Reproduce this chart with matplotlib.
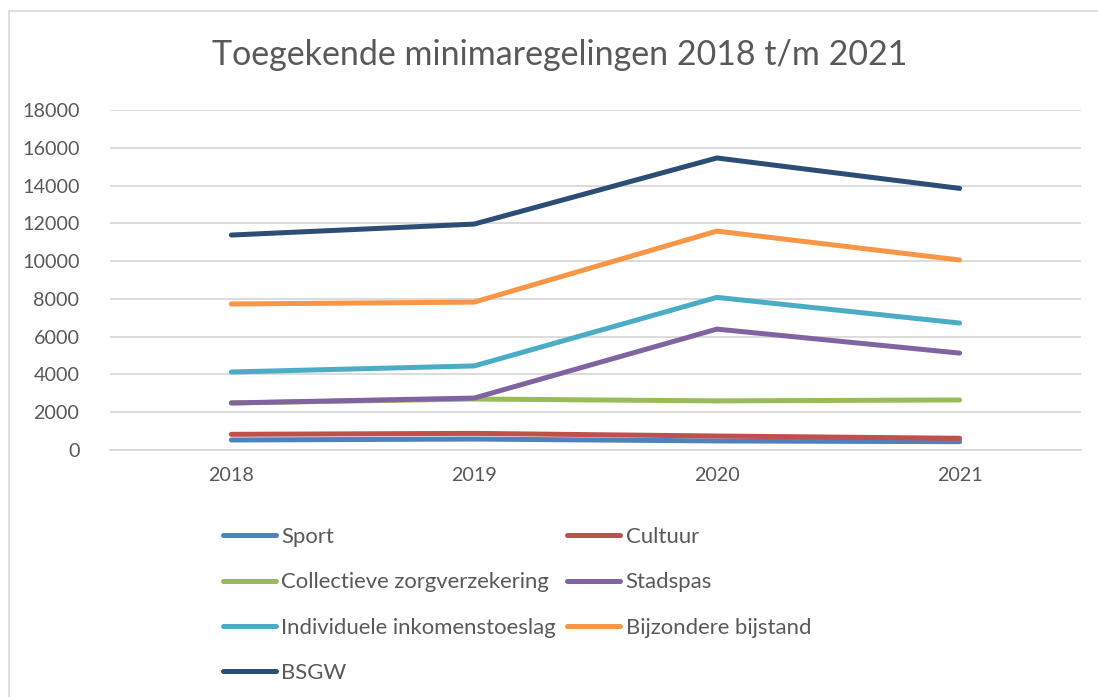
import matplotlib
matplotlib.use("Agg")
import matplotlib.pyplot as plt
from matplotlib.patches import Rectangle

plt.rcParams['font.family'] = ['Lato', 'DejaVu Sans']

# data
years = ['2018', '2019', '2020', '2021']
sport = [530, 580, 480, 440]
cultuur = [830, 880, 740, 620]
collectieve = [2490, 2700, 2600, 2650]
stadspas = [2490, 2750, 6400, 5130]
individuele = [4130, 4450, 8080, 6720]
bijzondere = [7730, 7830, 11590, 10060]
bsgw = [11380, 11960, 15460, 13850]

series_names = ['Sport', 'Cultuur', 'Collectieve zorgverzekering', 'Stadspas',
                'Individuele inkomenstoeslag', 'Bijzondere bijstand', 'BSGW']
series_values = [sport, cultuur, collectieve, stadspas, individuele, bijzondere, bsgw]
series_colors = ['#4F81BD', '#C0504D', '#9BBB59', '#8064A2',
                 '#4BACC6', '#F79646', '#2C4D75']

text_grey = '#595959'
grid_grey = '#D9D9D9'

fig = plt.figure(figsize=(10.98, 6.97), dpi=100)
ax = fig.add_axes([110 / 1098, 1 - 450 / 697, 971 / 1098, 340 / 697])

# chart frame (only the left and top edges are in view)
fig.patches.append(Rectangle((9 / 1098, -0.05), 1.2, 1 - 11 / 697 + 0.05,
                             transform=fig.transFigure, fill=False,
                             edgecolor=grid_grey, linewidth=1.2))

x = [i + 0.5 for i in range(len(years))]
handles = []
for name, vals, col in zip(series_names, series_values, series_colors):
    h, = ax.plot(x, vals, color=col, linewidth=3.6, solid_capstyle='round',
                 solid_joinstyle='round', label=name)
    handles.append(h)

ax.set_xlim(0, len(years))
ax.set_ylim(0, 18000)
ax.set_yticks(range(0, 18001, 2000))
ax.set_xticks(x)
ax.set_xticklabels(years)
ax.grid(axis='y', color=grid_grey, linewidth=1.3)
ax.set_axisbelow(True)
for s in ['top', 'right', 'left']:
    ax.spines[s].set_visible(False)
ax.spines['bottom'].set_color(grid_grey)
ax.spines['bottom'].set_linewidth(1.3)
ax.tick_params(length=0, labelsize=14.2, colors=text_grey)
ax.tick_params(axis='y', pad=22)
ax.tick_params(axis='x', pad=12)

fig.text(560 / 1098, 1 - 55 / 697, 'Toegekende minimaregelingen 2018 t/m 2021',
         ha='center', va='center', fontsize=24.5, color=text_grey)

# legend filled row by row like the original (matplotlib fills columns first)
order = [0, 2, 4, 6, 1, 3, 5]
leg = fig.legend([handles[i] for i in order], [series_names[i] for i in order],
                 ncol=2, loc='upper left', bbox_to_anchor=(214 / 1098, 1 - 518 / 697),
                 frameon=False, fontsize=15.9, handlelength=2.4, handletextpad=0.25,
                 columnspacing=0.5, labelspacing=1.15, borderaxespad=0)
for t in leg.get_texts():
    t.set_color(text_grey)

fig.savefig('out.png', dpi=100)
